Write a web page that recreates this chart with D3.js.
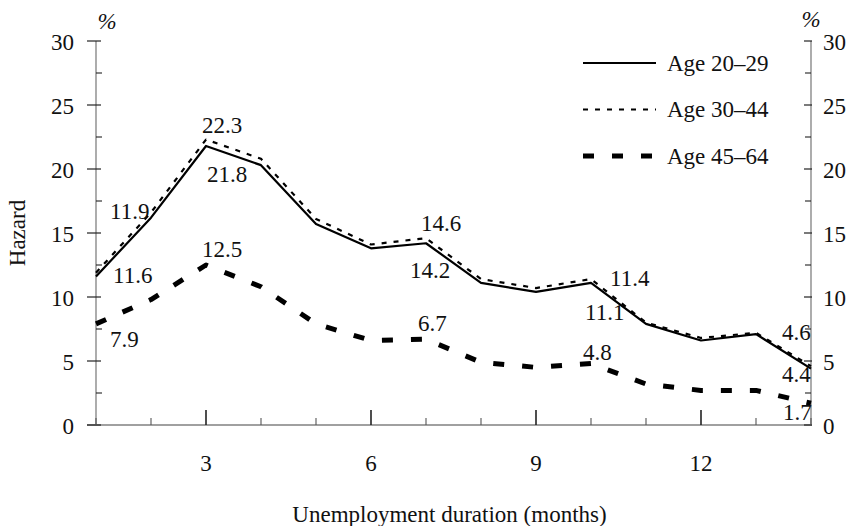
<!DOCTYPE html>
<html>
<head>
<meta charset="utf-8">
<script src="https://cdn.jsdelivr.net/npm/d3@7"></script>
<style>
  html, body { margin: 0; padding: 0; background: #fff; }
</style>
</head>
<body>
<svg id="chart" width="859" height="526"></svg>
<script>
// ---- data ----
const months = [1, 2, 3, 4, 5, 6, 7, 8, 9, 10, 11, 12, 13, 14];
const age2029 = [11.6, 16.2, 21.8, 20.3, 15.7, 13.8, 14.2, 11.1, 10.4, 11.1, 7.9, 6.6, 7.1, 4.4];
const age3044 = [11.9, 16.6, 22.3, 20.8, 16.1, 14.1, 14.6, 11.4, 10.7, 11.4, 8.0, 6.8, 7.2, 4.6];
const age4564 = [7.9, 9.8, 12.5, 10.8, 7.9, 6.6, 6.7, 4.9, 4.5, 4.8, 3.2, 2.7, 2.7, 1.7];
const seriesNames = ["Age 20–29", "Age 30–44", "Age 45–64"];
const yTicks = [0, 5, 10, 15, 20, 25, 30];
const xTickLabels = [3, 6, 9, 12];
const labelledMonths = [1, 3, 7, 10, 14];
const xTitle = "Unemployment duration (months)";
const yTitle = "Hazard";
const unitLabel = "%";

// ---- layout / style ----
const FONT = "'Liberation Serif', 'Times New Roman', Times, 'Nimbus Roman', 'Nimbus Roman No9 L', 'DejaVu Serif', serif";
const FS = 23;
const x = d3.scaleLinear().domain([1, 14]).range([96, 811]);
const y = d3.scaleLinear().domain([0, 30]).range([425, 41]);
const styles = [
  { width: 2.2, dash: null },
  { width: 2.2, dash: "5,7" },
  { width: 5, dash: "11,18" }
];
// label offsets (dx, dy) per series, per labelled month
const labelOffsets = [
  [[17, -1], [1, 29], [-16, 27], [-6, 30], [-29, 6]],
  [[14, -61], [-4, -14], [-5, -15], [19, -1], [-29, -34]],
  [[14, 16], [-4, -16], [-8, -16], [-8, -11], [-28, 9]]
];

const svg = d3.select("#chart").attr("font-family", FONT).style("font-family", FONT);
const series = [age2029, age3044, age4564];

const txt = (sel) => sel.attr("font-family", FONT).attr("fill", "#111").attr("font-size", FS);

// ---- axes ----
const axisColor = "#808080";
const tickColor = "#222";
const g = svg.append("g");

g.append("line").attr("x1", x(1)).attr("x2", x(1)).attr("y1", y(30)).attr("y2", y(0))
  .attr("stroke", axisColor).attr("stroke-width", 1.3);
g.append("line").attr("x1", x(14)).attr("x2", x(14)).attr("y1", y(30)).attr("y2", y(0))
  .attr("stroke", axisColor).attr("stroke-width", 1.3);
g.append("line").attr("x1", x(1) - 9).attr("x2", x(14) + 1).attr("y1", y(0)).attr("y2", y(0))
  .attr("stroke", axisColor).attr("stroke-width", 1.3);

const minorY = d3.range(2.5, 30, 5);
yTicks.forEach(v => {
  g.append("line").attr("x1", x(1) - 9).attr("x2", x(1) + 5).attr("y1", y(v)).attr("y2", y(v))
    .attr("stroke", tickColor).attr("stroke-width", 1.2);
  g.append("line").attr("x1", x(14) - 7).attr("x2", x(14) + 1).attr("y1", y(v)).attr("y2", y(v))
    .attr("stroke", tickColor).attr("stroke-width", 1.2);
  g.append("text").attr("x", x(1) - 22).attr("y", y(v) + 1).attr("text-anchor", "end")
    .attr("dominant-baseline", "central").call(txt).text(v);
  g.append("text").attr("x", x(14) + 12).attr("y", y(v) + 1).attr("text-anchor", "start")
    .attr("dominant-baseline", "central").call(txt).text(v);
});
minorY.forEach(v => {
  g.append("line").attr("x1", x(1)).attr("x2", x(1) + 6).attr("y1", y(v)).attr("y2", y(v))
    .attr("stroke", tickColor).attr("stroke-width", 1.1);
  g.append("line").attr("x1", x(14) - 6).attr("x2", x(14)).attr("y1", y(v)).attr("y2", y(v))
    .attr("stroke", tickColor).attr("stroke-width", 1.1);
});

months.forEach(m => {
  const major = xTickLabels.includes(m);
  g.append("line").attr("x1", x(m)).attr("x2", x(m)).attr("y1", y(0)).attr("y2", y(0) - (major ? 15 : 7))
    .attr("stroke", major ? tickColor : "#555").attr("stroke-width", major ? 1.6 : 1.1);
});
xTickLabels.forEach(m => {
  g.append("text").attr("x", x(m)).attr("y", 471).attr("text-anchor", "middle")
    .call(txt).text(m);
});

// titles
g.append("text").attr("x", (x(1) + x(14)) / 2 - 4).attr("y", 522).attr("text-anchor", "middle")
  .call(txt).text(xTitle);
g.append("text").attr("transform", `translate(25,${(y(0) + y(30)) / 2}) rotate(-90)`)
  .attr("text-anchor", "middle").call(txt).text(yTitle);
g.append("text").attr("x", x(1) + 11).attr("y", 29).attr("text-anchor", "middle")
  .call(txt).attr("font-style", "italic").text(unitLabel);
g.append("text").attr("x", x(14)).attr("y", 27).attr("text-anchor", "middle")
  .call(txt).attr("font-style", "italic").text(unitLabel);

// ---- lines ----
const line = d3.line().x((d, i) => x(months[i])).y(d => y(d));
[2, 1, 0].forEach(si => {
  const p = svg.append("path").datum(series[si]).attr("d", line)
    .attr("fill", "none").attr("stroke", "#000")
    .attr("stroke-width", styles[si].width).attr("stroke-linejoin", "round");
  if (styles[si].dash) p.attr("stroke-dasharray", styles[si].dash);
});

// ---- data labels ----
series.forEach((s, si) => {
  labelledMonths.forEach((m, li) => {
    const i = months.indexOf(m);
    const [dx, dy] = labelOffsets[si][li];
    svg.append("text").attr("x", x(m) + dx).attr("y", y(s[i]) + dy)
      .attr("dominant-baseline", "central").call(txt)
      .text(s[i].toFixed(1));
  });
});

// ---- legend ----
const legendY = [63, 109.5, 156];
seriesNames.forEach((name, si) => {
  const ly = legendY[si];
  const l = svg.append("line").attr("x1", 583).attr("x2", 656).attr("y1", ly).attr("y2", ly)
    .attr("stroke", "#000").attr("stroke-width", styles[si].width);
  if (styles[si].dash) l.attr("stroke-dasharray", styles[si].dash);
  svg.append("text").attr("x", 667).attr("y", ly).attr("dominant-baseline", "central")
    .call(txt).text(name);
});
</script>
</body>
</html>
